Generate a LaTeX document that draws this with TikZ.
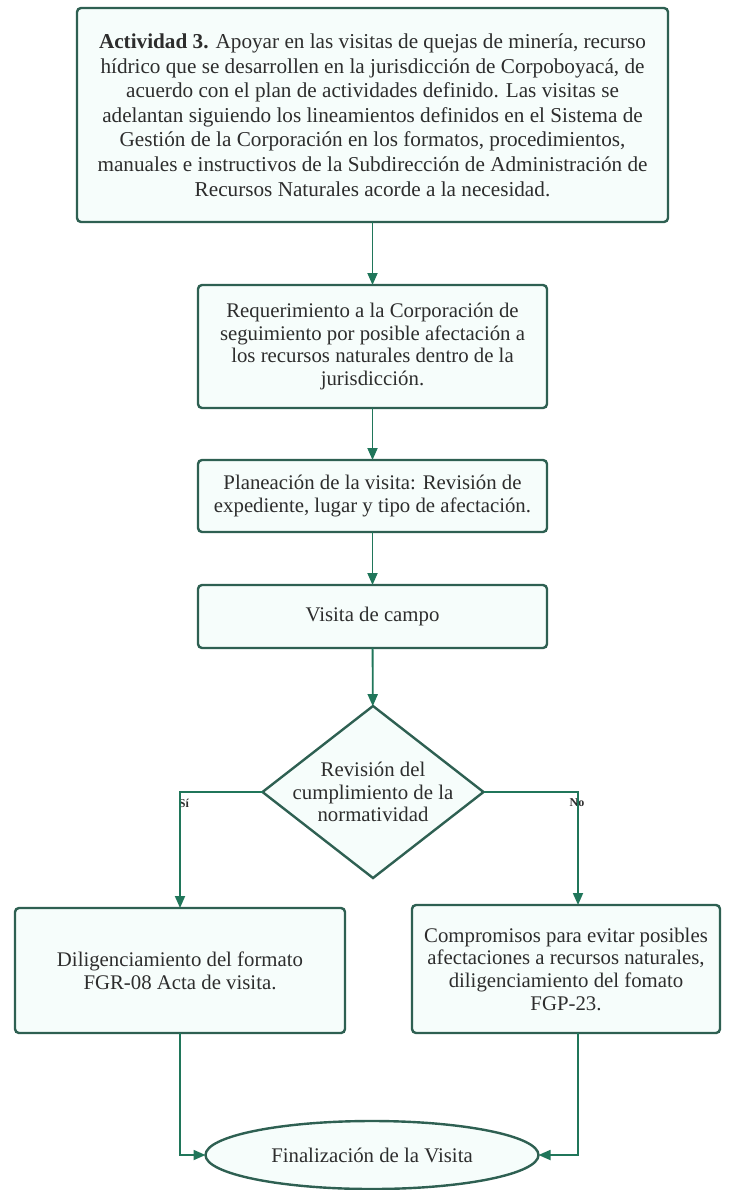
\documentclass[tikz,border=0pt]{standalone}
\usepackage{fontspec}
\setmainfont{Liberation Serif}
\usepackage{tikz}
\usetikzlibrary{shapes,arrows,positioning,calc,arrows.meta}
\definecolor{boxline}{RGB}{46,96,82}
\definecolor{arrowgreen}{RGB}{32,118,90}
\definecolor{boxfill}{RGB}{246,253,251}
\definecolor{textgray}{RGB}{45,45,45}

\begin{document}
\begin{tikzpicture}[x=1pt, y=-1pt, outer sep=0pt,
    proc/.style={draw=boxline, line width=2.4pt, fill=boxfill, rounded corners=4pt, align=center, text=textgray, inner sep=0pt, font=\fontsize{20.8}{22.7}\selectfont},
    decision/.style={shape=diamond, draw=boxline, line width=2.4pt, fill=boxfill, align=center, text=textgray, aspect=1.285, inner xsep=-13pt, inner ysep=0pt, minimum width=221pt, minimum height=172pt, font=\fontsize{20.8}{22.7}\selectfont},
    terminal/.style={shape=ellipse, draw=boxline, line width=2.4pt, fill=boxfill, text=textgray, inner sep=0pt, minimum width=333pt, minimum height=68pt, font=\fontsize{20.8}{22.7}\selectfont},
    flow/.style={draw=arrowgreen, line width=1.8pt, -{Triangle[length=12pt,width=10pt]}},
    tag/.style={text=textgray, inner sep=0pt, font=\fontsize{12}{14}\selectfont\bfseries}]
    \useasboundingbox (0,0) rectangle (732,1190);

    \node [proc, minimum width=591pt, minimum height=214pt, font=\fontsize{21.2}{24.6}\selectfont] (act) at (372.5,115) {\textbf{Actividad 3.} Apoyar en las visitas de quejas de minería, recurso\\hídrico que se desarrollen en la jurisdicción de Corpoboyacá, de\\acuerdo con el plan de actividades definido. Las visitas se\\adelantan siguiendo los lineamientos definidos en el Sistema de\\Gestión de la Corporación en los formatos, procedimientos,\\manuales e instructivos de la Subdirección de Administración de\\Recursos Naturales acorde a la necesidad.};
    \node [proc, minimum width=349pt, minimum height=123pt] (req) at (372.5,346.5) {Requerimiento a la Corporación de\\seguimiento por posible afectación a\\los recursos naturales dentro de la\\jurisdicción.};
    \node [proc, minimum width=349pt, minimum height=72pt] (plan) at (372.5,496) {Planeación de la visita: Revisión de\\expediente, lugar y tipo de afectación.};
    \node [proc, minimum width=349pt, minimum height=63pt] (campo) at (372.5,616.5) {Visita de campo};
    \node [decision] (rev) at (373,792) {Revisión del\\cumplimiento de la\\normatividad};
    \node [proc, minimum width=330pt, minimum height=125pt] (fgr) at (180,970.5) {Diligenciamiento del formato\\FGR-08 Acta de visita.};
    \node [proc, minimum width=308pt, minimum height=128pt] (fgp) at (566,969) {Compromisos para evitar posibles\\afectaciones a recursos naturales,\\diligenciamiento del fomato\\FGP-23.};
    \node [terminal] (fin) at (372,1155) {Finalización de la Visita};

    \node [tag] (si) at (184,803) {Sí};
    \node [tag] (no) at (577,803) {No};

    \draw [flow] (act) -- (req);
    \draw [flow] (req) -- (plan);
    \draw [flow] (plan) -- (campo);
    \draw [flow] (campo) -- (rev);
    \draw [flow] (rev.west) -| (fgr.north);
    \draw [flow] (rev.east) -| ([xshift=12pt]fgp.north);
    \draw [flow] (fgr.south) |- (fin.west);
    \draw [flow] ([xshift=12pt]fgp.south) |- (fin.east);
\end{tikzpicture}
\end{document}
